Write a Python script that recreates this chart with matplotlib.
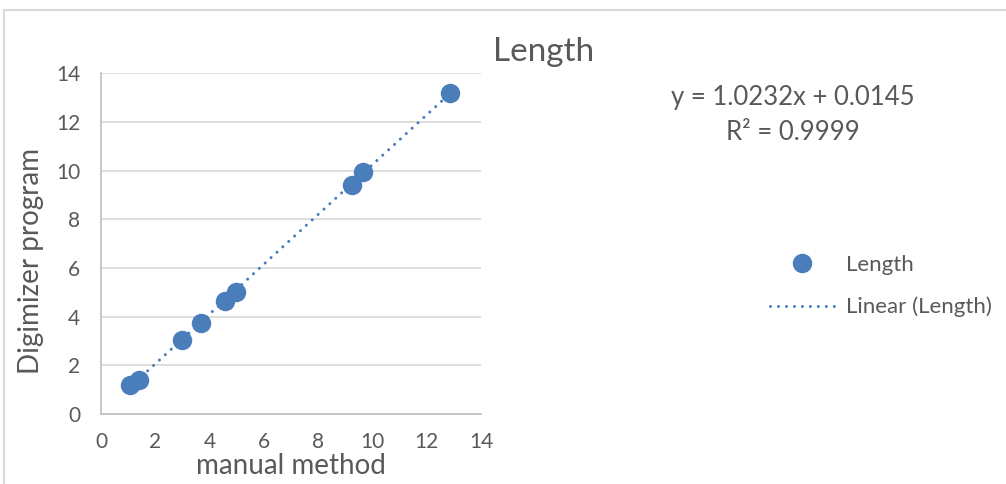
import matplotlib.pyplot as plt
from matplotlib.patches import Rectangle
from matplotlib.lines import Line2D
import numpy as np

# values
manual = [1.07, 1.40, 3.00, 3.68, 4.57, 4.97, 9.24, 9.66, 12.86]
digimizer = [1.19, 1.40, 3.04, 3.73, 4.64, 5.02, 9.41, 9.95, 13.18]
slope, intercept = 1.0232, 0.0145
x_ticks = [0, 2, 4, 6, 8, 10, 12, 14]
y_ticks = [0, 2, 4, 6, 8, 10, 12, 14]

blue = '#4a7ebb'
grey_text = '#595959'
plt.rcParams['font.family'] = ['Lato', 'DejaVu Sans']

W, H = 1006, 484
fig = plt.figure(figsize=(W / 100, H / 100), dpi=100)

# chart frame
fig.patches.append(Rectangle((4 / W, -0.1), 1.2, 1 - 10 / H + 0.1, transform=fig.transFigure,
                             fill=False, edgecolor='#d9d9d9', linewidth=1.5))

ax = fig.add_axes([101 / W, 1 - 414 / H, 380 / W, (414 - 73.3) / H])
ax.set_xlim(0, 14)
ax.set_ylim(0, 14)
ax.set_xticks(x_ticks)
ax.set_yticks(y_ticks)
ax.grid(axis='y', color='#d9d9d9', linewidth=1.2)
ax.set_axisbelow(True)
for s in ['top', 'right']:
    ax.spines[s].set_visible(False)
for s in ['left', 'bottom']:
    ax.spines[s].set_color('#bfbfbf')
    ax.spines[s].set_linewidth(1.2)
ax.tick_params(length=0, labelsize=15, labelcolor=grey_text)
ax.tick_params(axis='y', pad=15)
ax.tick_params(axis='x', pad=13)

xs = np.array([min(manual), max(manual)])
ax.plot(xs, slope * xs + intercept, color=blue, linewidth=2.2,
        linestyle=(0, (0.01, 2.6)), dash_capstyle='round', zorder=2)
ax.plot(manual, digimizer, 'o', color=blue, markersize=13, zorder=3)

fig.text(291 / W, 1 - 466 / H, 'manual method', ha='center', va='center',
         fontsize=20, color=grey_text)
fig.text(31 / W, 1 - 261 / H, 'Digimizer program', ha='center', va='center',
         rotation=90, fontsize=20, color=grey_text)
fig.text(544 / W, 1 - 52 / H, 'Length', ha='center', va='center',
         fontsize=24, color=grey_text)
fig.text(793 / W, 1 - 97 / H, 'y = 1.0232x + 0.0145', ha='center', va='center',
         fontsize=18.5, color=grey_text)
fig.text(793 / W, 1 - 132 / H, 'R² = 0.9999', ha='center', va='center',
         fontsize=18.5, color=grey_text)

handles = [Line2D([], [], marker='o', linestyle='none', color=blue, markersize=13),
           Line2D([], [], color=blue, linewidth=2.2, linestyle=(0, (0.01, 2.6)),
                  dash_capstyle='round')]
fig.legend(handles, ['Length', 'Linear (Length)'], loc='center left',
           bbox_to_anchor=(770 / W, 1 - 286 / H), frameon=False, fontsize=16,
           labelcolor=grey_text, handlelength=2.9, labelspacing=1.0, handletextpad=0.5,
           borderpad=0, borderaxespad=0)

plt.savefig('out.png', dpi=100)
